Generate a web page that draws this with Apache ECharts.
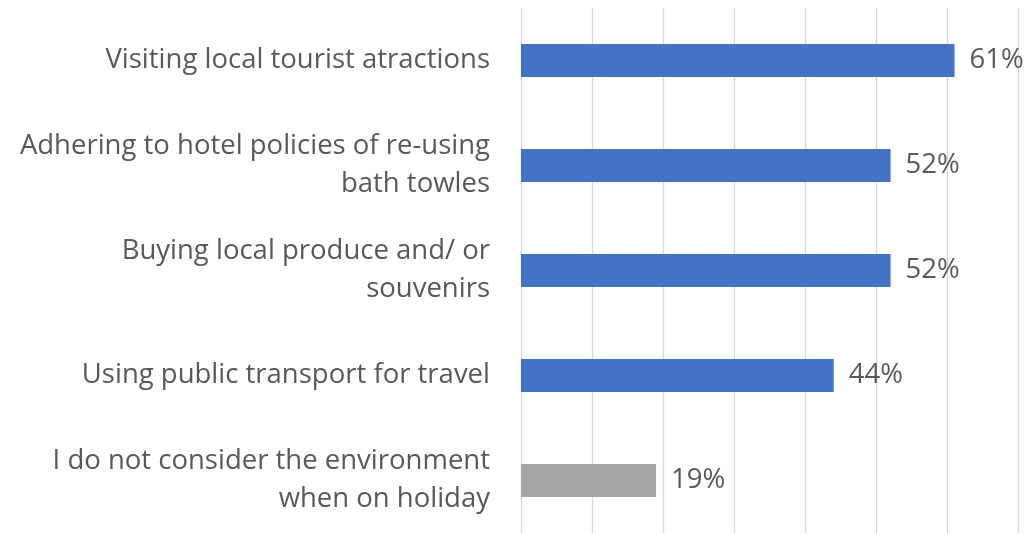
<!DOCTYPE html>
<html>
<head>
<meta charset="utf-8">
<script src="https://cdn.jsdelivr.net/npm/echarts@6/dist/echarts.min.js"></script>
<style>
  html, body { margin: 0; padding: 0; background: #ffffff; }
  #chart { width: 1028px; height: 533px; }
</style>
</head>
<body>
<div id="chart"></div>
<script>
// Environmental behaviours while on holiday (share of respondents, %)
const categories = [
  'Visiting local tourist atractions',
  'Adhering to hotel policies of re-using\nbath towles',
  'Buying local produce and/ or\nsouvenirs',
  'Using public transport for travel',
  'I do not consider the environment\nwhen on holiday'
];
const values = [61, 52, 52, 44, 19];
const barColors = ['#4472C4', '#4472C4', '#4472C4', '#4472C4', '#A5A5A5'];

const FONT = '"Open Sans", "Liberation Sans", sans-serif';
const TEXT = '#595959';

const chart = echarts.init(document.getElementById('chart'), null, { renderer: 'canvas' });
chart.setOption({
  animation: false,
  backgroundColor: '#ffffff',
  grid: { left: 521, right: 9.5, top: 8, bottom: -3, containLabel: false },
  xAxis: {
    type: 'value',
    min: 0,
    max: 70,
    interval: 10,
    axisLabel: { show: false },
    axisLine: { show: false },
    axisTick: { show: false },
    splitLine: { show: true, lineStyle: { color: '#D9D9D9', width: 1.3 } }
  },
  yAxis: {
    type: 'category',
    inverse: true,
    data: categories,
    axisLine: { show: false },
    axisTick: { show: false },
    axisLabel: {
      margin: 31,
      align: 'right',
      fontFamily: FONT,
      fontSize: 27.5,
      lineHeight: 38,
      padding: [6, 0, 0, 0],
      color: TEXT
    }
  },
  series: [{
    type: 'bar',
    data: values.map((v, i) => ({ value: v, itemStyle: { color: barColors[i] } })),
    barWidth: 33,
    label: {
      show: true,
      position: 'right',
      distance: 15,
      formatter: p => p.value + '%',
      fontFamily: FONT,
      fontSize: 27.5,
      padding: [6, 0, 0, 0],
      color: TEXT
    }
  }]
});
</script>
</body>
</html>
